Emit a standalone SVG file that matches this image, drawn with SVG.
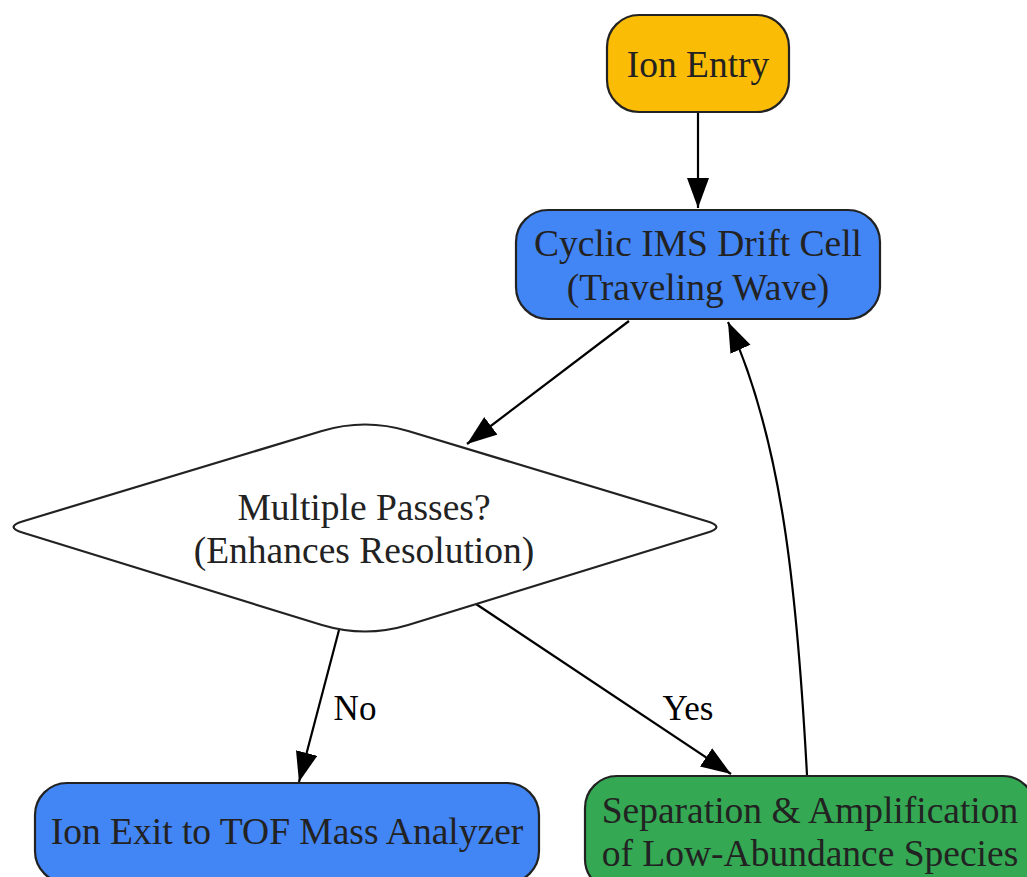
<svg xmlns="http://www.w3.org/2000/svg" width="1027" height="877" viewBox="0 0 1027 877">
<style>
.node{stroke:#222;stroke-width:2.2}
.t{font-family:"Liberation Serif","Times New Roman",serif;font-size:37.5px;fill:#222;text-anchor:middle}
.lbl{font-family:"Liberation Serif","Times New Roman",serif;font-size:35px;fill:#000;text-anchor:middle}
.edge{fill:none;stroke:#000;stroke-width:2.2}
</style>
<defs>
<marker id="arr" markerUnits="userSpaceOnUse" markerWidth="32" markerHeight="24" refX="30" refY="11" orient="auto">
<path d="M0,0 L30,11 L0,22 z" fill="#000"/>
</marker>
</defs>
<rect width="1027" height="877" fill="#fff"/>
<g id="edges">
<path class="edge" d="M698,112 L698,208" marker-end="url(#arr)"/>
<path class="edge" d="M629,321 L467,444" marker-end="url(#arr)"/>
<path class="edge" d="M339,630 L299,782" marker-end="url(#arr)"/>
<path class="edge" d="M476,604 L731,774" marker-end="url(#arr)"/>
<path class="edge" d="M807,775 C797,590 782,440 728,322" marker-end="url(#arr)"/>
<text class="lbl" x="355" y="720">No</text>
<text class="lbl" x="688" y="720">Yes</text>
</g>
<g id="ion-entry">
<rect class="node" x="607" y="15" width="182" height="97" rx="32" fill="#FBBC05"/>
<text class="t" x="698" y="77">Ion Entry</text>
</g>
<g id="cyclic-ims">
<rect class="node" x="516" y="210" width="364" height="109" rx="32" fill="#4285F4"/>
<text class="t" x="698" y="256">Cyclic IMS Drift Cell</text>
<text class="t" x="698" y="300">(Traveling Wave)</text>
</g>
<g id="decision">
<path class="node" fill="#fff" d="M321.9,431 Q365,418 408.1,431 L706.9,521.2 Q726,527 706.9,532.8 L408.1,625 Q365,638 321.9,625 L23.1,532.8 Q4,527 23.1,521.2 Z"/>
<text class="t" x="364" y="520">Multiple Passes?</text>
<text class="t" x="364" y="563">(Enhances Resolution)</text>
</g>
<g id="ion-exit">
<rect class="node" x="35" y="783" width="504" height="100" rx="32" fill="#4285F4"/>
<text class="t" x="287" y="844">Ion Exit to TOF Mass Analyzer</text>
</g>
<g id="separation">
<rect class="node" x="585" y="776" width="450" height="115" rx="32" fill="#34A853"/>
<text class="t" x="810" y="823">Separation &amp; Amplification</text>
<text class="t" x="810" y="866">of Low-Abundance Species</text>
</g>
</svg>
